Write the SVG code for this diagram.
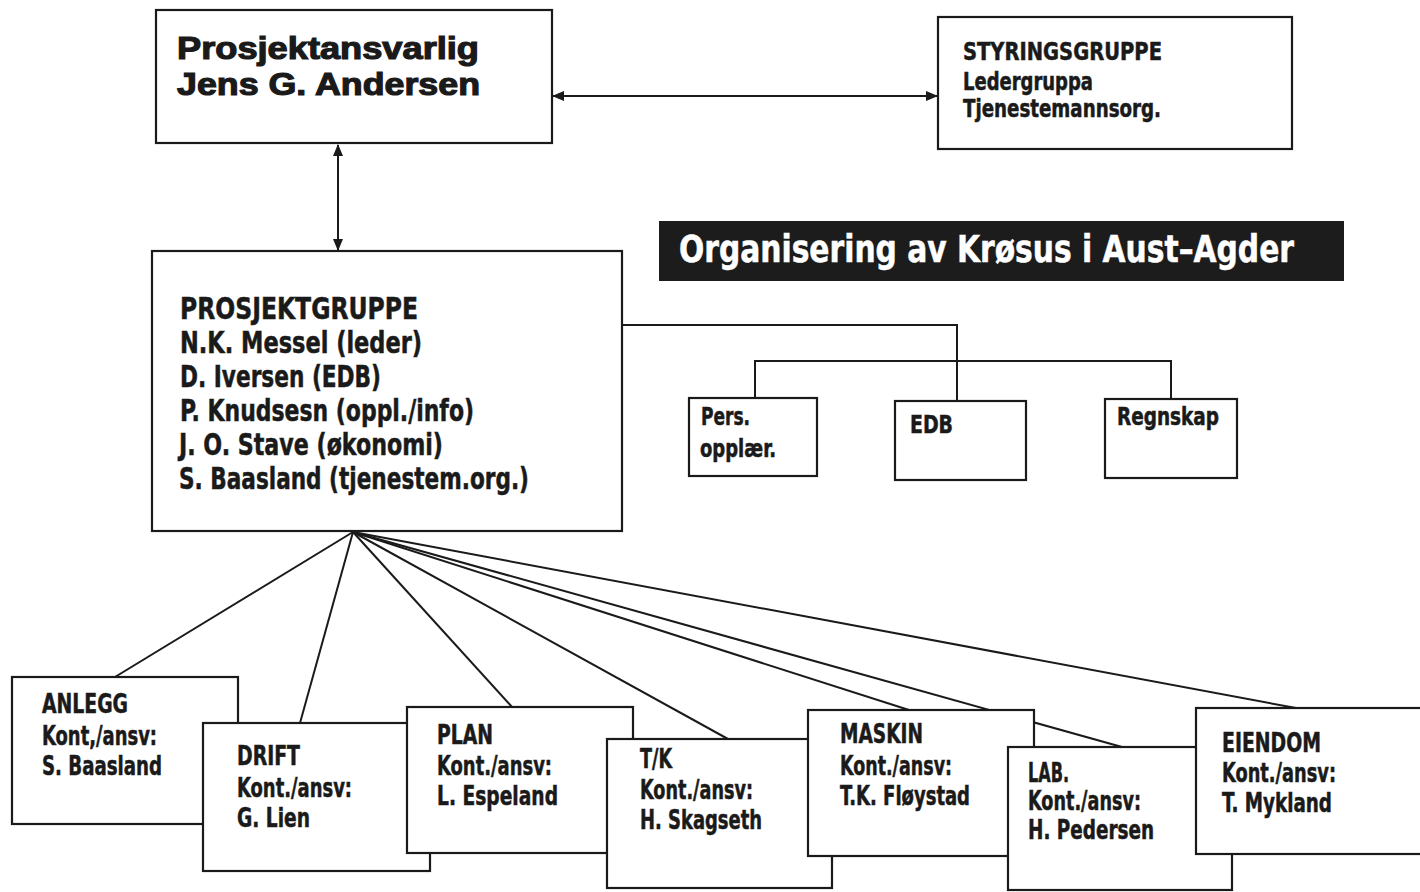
<svg xmlns="http://www.w3.org/2000/svg" width="1420" height="892" viewBox="0 0 1420 892">
<style>
.box{fill:#fff;stroke:#1a1a1a;stroke-width:2.2}
.ln{fill:none;stroke:#1a1a1a;stroke-width:2}
.t{font-family:"Liberation Sans Narrow","DejaVu Sans Condensed","Liberation Sans",sans-serif;font-weight:bold;fill:#1a1a1a;stroke:#1a1a1a;stroke-width:0.5}
.big{font-family:"Liberation Sans","DejaVu Sans",sans-serif;font-weight:900;fill:#1a1a1a;font-size:32px;stroke:#1a1a1a;stroke-width:1.2}
.s24{font-size:26px}
.s22{font-size:24px}
.s29{font-size:31px}
.w{fill:#fff;stroke:#fff;stroke-width:0.5}
</style>
<defs>
<marker id="ah" viewBox="0 0 12 10" refX="11" refY="5" markerWidth="12" markerHeight="10" markerUnits="userSpaceOnUse" orient="auto-start-reverse">
<path d="M0,0 L12,5 L0,10 Z" fill="#1a1a1a"/>
</marker>
</defs>
<rect width="1420" height="892" fill="#fff"/>
<g id="connectors">
<line class="ln" x1="553" y1="96" x2="937" y2="96" marker-start="url(#ah)" marker-end="url(#ah)"/>
<line class="ln" x1="338" y1="145" x2="338" y2="250" marker-start="url(#ah)" marker-end="url(#ah)"/>
<polyline class="ln" points="622,325 957,325 957,401"/>
<polyline class="ln" points="755,398 755,361 1171,361 1171,399"/>
<line class="ln" x1="353" y1="532" x2="115" y2="677"/>
<line class="ln" x1="353" y1="532" x2="300" y2="723"/>
<line class="ln" x1="353" y1="532" x2="512" y2="707"/>
<line class="ln" x1="353" y1="532" x2="728" y2="739"/>
<line class="ln" x1="353" y1="532" x2="909" y2="710"/>
<line class="ln" x1="353" y1="532" x2="1122" y2="747"/>
<line class="ln" x1="353" y1="532" x2="1296" y2="708"/>
</g>
<g id="prosjektansvarlig">
<rect class="box" x="156" y="10" width="396" height="133"/>
<text class="big" x="177" y="59" textLength="302" lengthAdjust="spacingAndGlyphs">Prosjektansvarlig</text>
<text class="big" x="177" y="95" textLength="303" lengthAdjust="spacingAndGlyphs">Jens G. Andersen</text>
</g>
<g id="styringsgruppe">
<rect class="box" x="938" y="17" width="354" height="132"/>
<text class="t s22" x="963" y="60" textLength="199" lengthAdjust="spacingAndGlyphs">STYRINGSGRUPPE</text>
<text class="t s22" x="963" y="90" textLength="130" lengthAdjust="spacingAndGlyphs">Ledergruppa</text>
<text class="t s22" x="963" y="117" textLength="198" lengthAdjust="spacingAndGlyphs">Tjenestemannsorg.</text>
</g>
<g id="title">
<rect x="659" y="221" width="685" height="60" fill="#1c1c1c"/>
<text class="t w" x="679" y="262" font-size="37" textLength="615" lengthAdjust="spacingAndGlyphs">Organisering av Krøsus i Aust–Agder</text>
</g>
<g id="prosjektgruppe">
<rect class="box" x="152" y="251" width="470" height="280"/>
<text class="t s29" x="180" y="319" textLength="238" lengthAdjust="spacingAndGlyphs">PROSJEKTGRUPPE</text>
<text class="t s29" x="180" y="353" textLength="242" lengthAdjust="spacingAndGlyphs">N.K. Messel (leder)</text>
<text class="t s29" x="180" y="387" textLength="201" lengthAdjust="spacingAndGlyphs">D. Iversen (EDB)</text>
<text class="t s29" x="180" y="421" textLength="294" lengthAdjust="spacingAndGlyphs">P. Knudsesn (oppl./info)</text>
<text class="t s29" x="179" y="455" textLength="264" lengthAdjust="spacingAndGlyphs">J. O. Stave (økonomi)</text>
<text class="t s29" x="179" y="489" textLength="350" lengthAdjust="spacingAndGlyphs">S. Baasland (tjenestem.org.)</text>
</g>
<g id="pers">
<rect class="box" x="689" y="398" width="128" height="78"/>
<text class="t s22" x="701" y="425" textLength="49" lengthAdjust="spacingAndGlyphs">Pers.</text>
<text class="t s22" x="700" y="457" textLength="76" lengthAdjust="spacingAndGlyphs">opplær.</text>
</g>
<g id="edb">
<rect class="box" x="895" y="401" width="131" height="79"/>
<text class="t s22" x="910" y="433" textLength="43" lengthAdjust="spacingAndGlyphs">EDB</text>
</g>
<g id="regnskap">
<rect class="box" x="1105" y="399" width="132" height="79"/>
<text class="t s22" x="1117" y="425" textLength="102" lengthAdjust="spacingAndGlyphs">Regnskap</text>
</g>
<g id="anlegg">
<rect class="box" x="12" y="677" width="226" height="147"/>
<text class="t s24" x="42" y="713" textLength="86" lengthAdjust="spacingAndGlyphs">ANLEGG</text>
<text class="t s24" x="42" y="745" textLength="115" lengthAdjust="spacingAndGlyphs">Kont,/ansv:</text>
<text class="t s24" x="42" y="775" textLength="120" lengthAdjust="spacingAndGlyphs">S. Baasland</text>
</g>
<g id="drift">
<rect class="box" x="203" y="723" width="227" height="148"/>
<text class="t s24" x="237" y="765" textLength="63" lengthAdjust="spacingAndGlyphs">DRIFT</text>
<text class="t s24" x="237" y="797" textLength="115" lengthAdjust="spacingAndGlyphs">Kont./ansv:</text>
<text class="t s24" x="237" y="827" textLength="73" lengthAdjust="spacingAndGlyphs">G. Lien</text>
</g>
<g id="plan">
<rect class="box" x="407" y="707" width="226" height="146"/>
<text class="t s24" x="437" y="744" textLength="56" lengthAdjust="spacingAndGlyphs">PLAN</text>
<text class="t s24" x="437" y="775" textLength="115" lengthAdjust="spacingAndGlyphs">Kont./ansv:</text>
<text class="t s24" x="437" y="805" textLength="121" lengthAdjust="spacingAndGlyphs">L. Espeland</text>
</g>
<g id="tk">
<rect class="box" x="607" y="739" width="225" height="149"/>
<text class="t s24" x="640" y="768" textLength="32" lengthAdjust="spacingAndGlyphs">T/K</text>
<text class="t s24" x="640" y="799" textLength="113" lengthAdjust="spacingAndGlyphs">Kont./ansv:</text>
<text class="t s24" x="640" y="829" textLength="122" lengthAdjust="spacingAndGlyphs">H. Skagseth</text>
</g>
<g id="maskin">
<rect class="box" x="808" y="710" width="226" height="146"/>
<text class="t s24" x="840" y="743" textLength="83" lengthAdjust="spacingAndGlyphs">MASKIN</text>
<text class="t s24" x="840" y="775" textLength="112" lengthAdjust="spacingAndGlyphs">Kont./ansv:</text>
<text class="t s24" x="840" y="805" textLength="130" lengthAdjust="spacingAndGlyphs">T.K. Fløystad</text>
</g>
<g id="lab">
<rect class="box" x="1008" y="747" width="224" height="143"/>
<text class="t s24" x="1028" y="782" textLength="41" lengthAdjust="spacingAndGlyphs">LAB.</text>
<text class="t s24" x="1028" y="810" textLength="113" lengthAdjust="spacingAndGlyphs">Kont./ansv:</text>
<text class="t s24" x="1028" y="839" textLength="126" lengthAdjust="spacingAndGlyphs">H. Pedersen</text>
</g>
<g id="eiendom">
<rect class="box" x="1196" y="708" width="240" height="146"/>
<text class="t s24" x="1222" y="752" textLength="99" lengthAdjust="spacingAndGlyphs">EIENDOM</text>
<text class="t s24" x="1222" y="782" textLength="114" lengthAdjust="spacingAndGlyphs">Kont./ansv:</text>
<text class="t s24" x="1222" y="812" textLength="110" lengthAdjust="spacingAndGlyphs">T. Mykland</text>
</g>
</svg>
